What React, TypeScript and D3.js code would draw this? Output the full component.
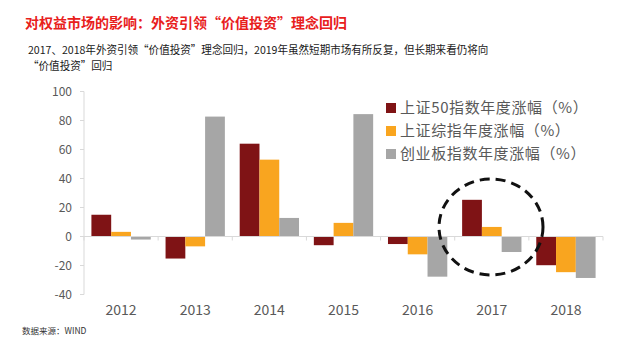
import React from "react";
import * as d3 from "d3";

const years = ["2012", "2013", "2014", "2015", "2016", "2017", "2018"];
const seriesNames = ["上证50指数年度涨幅（%）", "上证综指年度涨幅（%）", "创业板指数年度涨幅（%）"];
const sz50 = [15.0, -15.2, 64.0, -6.0, -5.2, 25.3, -19.8];
const szzz = [3.2, -6.8, 53.0, 9.4, -12.3, 6.6, -24.6];
const cyb = [-2.1, 82.7, 12.8, 84.4, -27.7, -10.7, -28.6];
const yTicks = [-40, -20, 0, 20, 40, 60, 80, 100];
const colors = ["#7f1315", "#f9a51f", "#a6a6a6"];

const W = 630;
const H = 356;
const CJK = '"Noto Sans CJK SC", "Noto Sans", sans-serif';

export default function App() {
  const x = d3.scaleBand<string>().domain(years).range([84, 603]).paddingInner(0.2).paddingOuter(0.1);
  const y = d3.scaleLinear().domain([-40, 100]).range([294.5, 91.5]);
  const sub = d3.scaleBand<number>().domain([0, 1, 2]).range([0, x.bandwidth()]);
  const data = [sz50, szzz, cyb];
  const step = x.step();
  const y0 = y(0);

  return (
    <svg width={W} height={H} style={{ position: "absolute", left: 0, top: 0 }}>
      <rect x={0} y={0} width={W} height={H} fill="#ffffff" />
      <text x={25} y={28} fontFamily={CJK} fontSize={14} fontWeight="bold" fill="#e8201c">
        对权益市场的影响：外资引领“价值投资”理念回归
      </text>
      <g transform="translate(28,0) scale(0.96,1)">
        <text x={0} y={54} fontFamily={CJK} fontSize={11} fill="#1a1a1a">
          2017、2018年外资引领“价值投资”理念回归，2019年虽然短期市场有所反复，但长期来看仍将向
        </text>
        <text x={0} y={70} fontFamily={CJK} fontSize={11} fill="#1a1a1a">
          “价值投资”回归
        </text>
      </g>

      {/* y axis */}
      <line x1={84} x2={84} y1={y(100)} y2={y(-40)} stroke="#d9d9d9" strokeWidth={1} />
      {yTicks.map((t) => (
        <g key={t}>
          <line x1={80} x2={84} y1={y(t)} y2={y(t)} stroke="#d9d9d9" />
          <text x={72} y={y(t)} dy="0.35em" textAnchor="end" fontFamily={CJK} fontSize={12} fill="#595959">
            {t}
          </text>
        </g>
      ))}

      {/* bars */}
      {years.map((yr, i) => (
        <g key={yr} transform={`translate(${x(yr)},0)`}>
          {data.map((s, k) => {
            const v = s[i];
            return (
              <rect
                key={k}
                x={sub(k)}
                width={sub.bandwidth()}
                y={Math.min(y(v), y0)}
                height={Math.abs(y(v) - y0)}
                fill={colors[k]}
              />
            );
          })}
        </g>
      ))}

      {/* x axis */}
      <line x1={84} x2={603} y1={y0} y2={y0} stroke="#d9d9d9" strokeWidth={1} />
      {d3.range(years.length + 1).map((j) => (
        <line key={j} x1={84 + j * step} x2={84 + j * step} y1={y0} y2={y0 + 4} stroke="#d9d9d9" />
      ))}
      {years.map((yr) => (
        <text
          key={yr}
          x={(x(yr) as number) + x.bandwidth() / 2}
          y={315}
          textAnchor="middle"
          fontFamily={CJK}
          fontSize={14}
          fill="#595959"
        >
          {yr}
        </text>
      ))}

      {/* legend */}
      {seriesNames.map((n, k) => (
        <g key={n} transform={`translate(386,${108 + k * 23})`}>
          <rect x={0} y={-5} width={10} height={10} fill={colors[k]} />
          <text x={14} y={0} dy="0.35em" fontFamily={CJK} fontSize={15} letterSpacing={0.6} fill="#595959">
            {n}
          </text>
        </g>
      ))}

      {/* dashed circle */}
      <ellipse
        cx={491}
        cy={227}
        rx={52}
        ry={48}
        fill="none"
        stroke="#111"
        strokeWidth={3}
        strokeDasharray="10 6"
      />

      <text x={22} y={334} fontFamily={CJK} fontSize={8.5} fill="#333">
        数据来源：WIND
      </text>
    </svg>
  );
}
